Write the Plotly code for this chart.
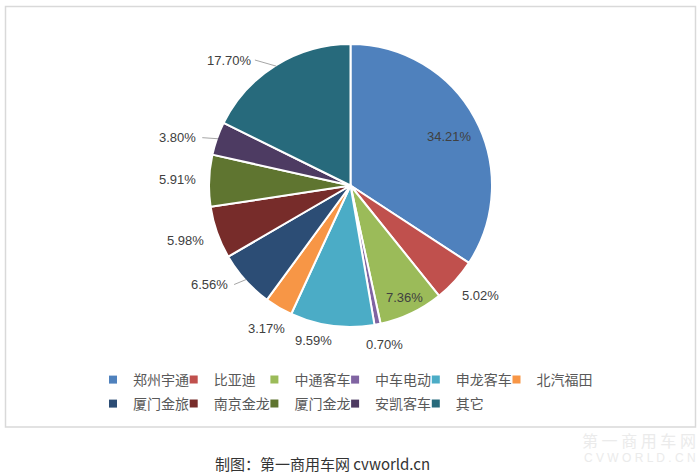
import math
import plotly.graph_objects as go

# ---- data ----
brands = ["郑州宇通", "比亚迪", "中通客车", "中车电动", "申龙客车", "北汽福田",
          "厦门金旅", "南京金龙", "厦门金龙", "安凯客车", "其它"]
shares = [34.21, 5.02, 7.36, 0.70, 9.59, 3.17, 6.56, 5.98, 5.91, 3.80, 17.70]
colors = ["#4F81BD", "#C0504D", "#9BBB59", "#8064A2", "#4BACC6", "#F79646",
          "#2C4D75", "#772C2A", "#5F7530", "#4D3B62", "#276A7C"]

W, H = 700, 473
CX, CY, R = 350.5, 185.5, 141.5


def px(x):
    return x / W


def py(y):
    return 1 - y / H


fig = go.Figure()
fig.add_trace(go.Pie(
    labels=brands, values=shares, sort=False, direction="clockwise", rotation=0,
    marker=dict(colors=colors, line=dict(color="white", width=2)),
    textinfo="none", hoverinfo="label+percent", showlegend=False,
    domain=dict(x=[px(CX - R), px(CX + R)], y=[py(CY + R), py(CY - R)]),
))

# legend proxies: one small legend per entry, laid out on a 6-column grid
LEG_X0, LEG_DX, LEG_Y0, LEG_DY, NCOL = 93, 80.7, 380, 24, 6
legend_layouts = {}
for i, (b, c) in enumerate(zip(brands, colors)):
    key = "legend" if i == 0 else f"legend{i + 1}"
    fig.add_trace(go.Scatter(
        x=[None], y=[None], mode="markers", name=b, legend=key, showlegend=True,
        marker=dict(symbol="square", size=8, color=c), hoverinfo="skip",
    ))
    row, col = divmod(i, NCOL)
    legend_layouts[key] = dict(
        x=px(LEG_X0 + col * LEG_DX), y=py(LEG_Y0 + row * LEG_DY),
        xanchor="left", yanchor="middle", orientation="v",
        font=dict(family="Noto Sans CJK SC", size=14, color="#595959"),
        bgcolor="rgba(0,0,0,0)", borderwidth=0,
    )

# label placement: (radius factor, angle tweak deg, leader line?)
label_cfg = [
    (0.78, 2, False),
    (1.20, -2, False),
    (0.88, 0, False),
    (1.15, -1, False),
    (1.13, 6, False),
    (1.17, 0, False),
    (1.22, 7, True),
    (1.23, 1, False),
    (1.22, 0, False),
    (1.27, -4, True),
    (1.23, -12, True),
]

total = sum(shares)
annotations = []
shapes = []
cum = 0.0
for i, v in enumerate(shares):
    mid = (cum + v / 2) / total * 360.0
    cum += v
    rf, dth, leader = label_cfg[i]
    th = math.radians(mid + dth)
    lx = CX + rf * R * math.sin(th)
    ly = CY - rf * R * math.cos(th)
    annotations.append(dict(
        x=px(lx), y=py(ly), xref="paper", yref="paper", showarrow=False,
        text=f"{v:.2f}%", xanchor="center", yanchor="middle",
        font=dict(family="Liberation Sans, Arial, sans-serif", size=13, color="#404040"),
    ))
    if leader:
        thm = math.radians(mid)
        ex = CX + (R - 1) * math.sin(thm)
        ey = CY - (R - 1) * math.cos(thm)
        sx = lx + 25
        shapes.append(dict(type="line", xref="paper", yref="paper",
                           x0=px(sx), y0=py(ly), x1=px(ex), y1=py(ey),
                           line=dict(color="#A6A6A6", width=1)))

# frame
shapes.append(dict(type="rect", xref="paper", yref="paper",
                   x0=px(5.5), x1=px(695.5), y0=py(427), y1=py(6.5),
                   line=dict(color="#D9D9D9", width=1.5), layer="below"))

annotations.append(dict(x=px(213), y=py(463), xref="paper", yref="paper",
                        showarrow=False, xanchor="left", yanchor="middle",
                        text="制图：第一商用车网 cvworld.cn",
                        font=dict(family="Noto Sans CJK SC", size=15, color="#333333")))
annotations.append(dict(x=px(698), y=py(440), xref="paper", yref="paper",
                        showarrow=False, xanchor="right", yanchor="middle",
                        text="第 一 商 用 车 网",
                        font=dict(family="Noto Sans CJK SC", size=16, color="#EBEBEB")))
annotations.append(dict(x=px(698), y=py(458), xref="paper", yref="paper",
                        showarrow=False, xanchor="right", yanchor="middle",
                        text="C V W O R L D . C N",
                        font=dict(family="Liberation Sans", size=12, color="#EBEBEB")))

fig.update_layout(
    width=W, height=H, margin=dict(l=0, r=0, t=0, b=0),
    paper_bgcolor="white", plot_bgcolor="white",
    showlegend=True,
    xaxis=dict(visible=False), yaxis=dict(visible=False),
    annotations=annotations, shapes=shapes,
    **legend_layouts,
)

fig.write_html("out.html",
               post_script="document.body.style.margin='0';document.body.style.overflow='hidden';",
               config={"displayModeBar": False})
